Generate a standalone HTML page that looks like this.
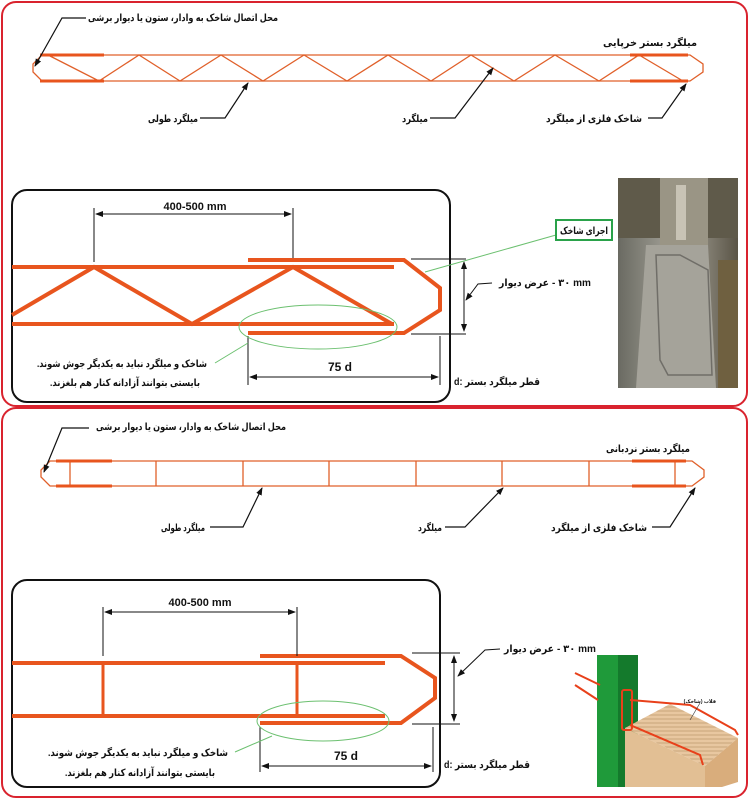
<!DOCTYPE html>
<html><head><meta charset="utf-8"><style>
html,body{margin:0;padding:0;background:#fff;}
svg{display:block;}
text{font-family:"Liberation Sans","DejaVu Sans",sans-serif;font-weight:bold;fill:#111;}
</style></head><body>
<svg width="750" height="800" viewBox="0 0 750 800" xmlns="http://www.w3.org/2000/svg">
<defs>
<marker id="ar" markerWidth="8" markerHeight="8" refX="7" refY="4" orient="auto" markerUnits="userSpaceOnUse"><path d="M0,1 L8,4 L0,7 z" fill="#111"/></marker>
<marker id="as" markerWidth="8" markerHeight="8" refX="1" refY="4" orient="auto" markerUnits="userSpaceOnUse"><path d="M8,1 L0,4 L8,7 z" fill="#111"/></marker>
<linearGradient id="conc" x1="0" x2="1"><stop offset="0" stop-color="#6a6a62"/><stop offset="0.5" stop-color="#a9a79d"/><stop offset="1" stop-color="#5a5446"/></linearGradient>
<pattern id="str" width="6" height="4" patternUnits="userSpaceOnUse"><rect width="6" height="4" fill="#e8c7a0"/><rect y="2.5" width="6" height="1" fill="#c9a57a"/></pattern>
</defs>

<rect x="2" y="2" width="745" height="404" rx="14" fill="none" stroke="#d9232e" stroke-width="2"/>
<rect x="2" y="408" width="745" height="389" rx="14" fill="none" stroke="#d9232e" stroke-width="2"/>

<!-- TOP TRUSS -->
<g stroke="#e0602a" stroke-width="1.3" fill="none">
<path d="M42,55 L690,55 L703,64 L703,72 L690,81 L42,81 L33,72 L33,64 Z"/>
<polyline points="48,55 99,81 139,55 180,81 221,55 263,81 304,55 347,81 388,55 431,81 471,55 514,81 555,55 599,81 639,55 683,81"/>
</g>
<g stroke="#e8551e" stroke-width="3">
<line x1="40" y1="55" x2="104" y2="55"/><line x1="40" y1="81" x2="104" y2="81"/>
<line x1="630" y1="55" x2="688" y2="55"/><line x1="630" y1="81" x2="688" y2="81"/>
</g>
<g stroke="#111" stroke-width="1.2" fill="none">
<polyline points="86,18 62,18 35,66" marker-end="url(#ar)"/>
<polyline points="200,118 225,118 248,83" marker-end="url(#ar)"/>
<polyline points="430,118 455,118 493,68" marker-end="url(#ar)"/>
<polyline points="648,118 662,118 686,84" marker-end="url(#ar)"/>
</g>
<g font-size="10" direction="rtl" text-anchor="start">
<text x="278" y="21" textLength="190" lengthAdjust="spacingAndGlyphs">محل اتصال شاخک به وادار، ستون یا دیوار برشی</text>
<text x="697" y="46" textLength="94" lengthAdjust="spacingAndGlyphs">میلگرد بستر خرپایی</text>
<text x="198" y="122" textLength="50" lengthAdjust="spacingAndGlyphs">میلگرد طولی</text>
<text x="428" y="122" textLength="26" lengthAdjust="spacingAndGlyphs">میلگرد</text>
<text x="642" y="122" textLength="96" lengthAdjust="spacingAndGlyphs">شاخک فلزی از میلگرد</text>
</g>

<!-- TOP DETAIL -->
<rect x="12" y="190" width="438" height="212" rx="15" fill="none" stroke="#111" stroke-width="2"/>
<g stroke="#e8551e" stroke-width="4" fill="none">
<line x1="12" y1="267" x2="394" y2="267"/>
<line x1="12" y1="324" x2="394" y2="324"/>
<polyline points="12,315 94,267 192,324 293,267 392,324"/>
<polyline points="248,260 404,260 440,288 440,310 404,333 248,333"/>
</g>
<g stroke="#111" stroke-width="1" fill="none">
<line x1="94" y1="208" x2="94" y2="262"/><line x1="293" y1="208" x2="293" y2="258"/>
<line x1="96" y1="214" x2="291" y2="214" marker-start="url(#as)" marker-end="url(#ar)"/>
<line x1="411" y1="259" x2="466" y2="259"/><line x1="411" y1="334" x2="466" y2="334"/>
<line x1="464" y1="262" x2="464" y2="331" marker-start="url(#as)" marker-end="url(#ar)"/>
<line x1="248" y1="336" x2="248" y2="385"/><line x1="440" y1="336" x2="440" y2="385"/>
<line x1="250" y1="377" x2="438" y2="377" marker-start="url(#as)" marker-end="url(#ar)"/>
<polyline points="492,283 478,284 466,300" marker-end="url(#ar)"/>
</g>
<text x="195" y="210" font-size="11" text-anchor="middle">400-500 mm</text>
<text x="340" y="371" font-size="12" text-anchor="middle">75 d</text>
<text x="549" y="286" font-size="10" direction="rtl" text-anchor="start" textLength="50" lengthAdjust="spacingAndGlyphs">عرض دیوار</text>
<text x="552" y="286" font-size="10">- ۳۰ mm</text>
<text x="540" y="385" font-size="10" direction="rtl" text-anchor="start" textLength="86" lengthAdjust="spacingAndGlyphs">قطر میلگرد بستر :d</text>
<g font-size="10" direction="rtl" text-anchor="start">
<text x="207" y="367" textLength="170" lengthAdjust="spacingAndGlyphs">شاخک و میلگرد نباید به یکدیگر جوش شوند.</text>
<text x="200" y="386" textLength="150" lengthAdjust="spacingAndGlyphs">بایستی بتوانند آزادانه کنار هم بلغزند.</text>
</g>
<ellipse cx="318" cy="327" rx="79" ry="22" fill="none" stroke="#6cc070" stroke-width="1"/>
<line x1="248" y1="343" x2="215" y2="363" stroke="#6cc070" stroke-width="1"/>
<line x1="556" y1="235" x2="425" y2="272" stroke="#6cc070" stroke-width="1"/>
<rect x="556" y="220" width="56" height="20" fill="#fff" stroke="#2aa24a" stroke-width="2"/>
<text x="608" y="234" font-size="10" direction="rtl" text-anchor="start" textLength="48" lengthAdjust="spacingAndGlyphs">اجرای شاخک</text>

<!-- photo -->
<rect x="618" y="178" width="120" height="210" fill="url(#conc)"/>
<rect x="618" y="178" width="120" height="60" fill="#5f5a4a"/>
<rect x="660" y="178" width="48" height="70" fill="#9a9585"/>
<rect x="676" y="185" width="10" height="55" fill="#c8c3b5"/>
<polygon points="646,245 708,245 716,388 636,388" fill="#a5a39a"/>
<path d="M656,255 L680,255 L708,270 L712,375 L668,375 L660,360 Z" fill="none" stroke="#706e68" stroke-width="1.5"/>
<rect x="718" y="260" width="20" height="128" fill="#6f6040"/>

<!-- BOTTOM LADDER -->
<g stroke="#e0602a" stroke-width="1.3" fill="none">
<path d="M50,461 L692,461 L704,470 L704,477 L692,486 L50,486 L41,477 L41,470 Z"/>
<line x1="70" y1="461" x2="70" y2="486"/><line x1="156" y1="461" x2="156" y2="486"/>
<line x1="243" y1="461" x2="243" y2="486"/><line x1="329" y1="461" x2="329" y2="486"/>
<line x1="416" y1="461" x2="416" y2="486"/><line x1="502" y1="461" x2="502" y2="486"/>
<line x1="589" y1="461" x2="589" y2="486"/><line x1="675" y1="461" x2="675" y2="486"/>
</g>
<g stroke="#e8551e" stroke-width="3">
<line x1="56" y1="461" x2="112" y2="461"/><line x1="56" y1="486" x2="112" y2="486"/>
<line x1="632" y1="461" x2="686" y2="461"/><line x1="632" y1="486" x2="686" y2="486"/>
</g>
<g stroke="#111" stroke-width="1.2" fill="none">
<polyline points="89,428 62,428 44,472" marker-end="url(#ar)"/>
<polyline points="210,527 243,527 262,488" marker-end="url(#ar)"/>
<polyline points="445,527 465,527 503,488" marker-end="url(#ar)"/>
<polyline points="652,527 670,527 695,488" marker-end="url(#ar)"/>
</g>
<g font-size="10" direction="rtl" text-anchor="start">
<text x="286" y="430" textLength="190" lengthAdjust="spacingAndGlyphs">محل اتصال شاخک به وادار، ستون یا دیوار برشی</text>
<text x="690" y="452" textLength="84" lengthAdjust="spacingAndGlyphs">میلگرد بستر نردبانی</text>
<text x="205" y="531" textLength="44" lengthAdjust="spacingAndGlyphs">میلگرد طولی</text>
<text x="442" y="531" textLength="24" lengthAdjust="spacingAndGlyphs">میلگرد</text>
<text x="647" y="531" textLength="96" lengthAdjust="spacingAndGlyphs">شاخک فلزی از میلگرد</text>
</g>

<!-- BOTTOM DETAIL -->
<rect x="12" y="580" width="428" height="207" rx="15" fill="none" stroke="#111" stroke-width="2"/>
<g stroke="#e8551e" stroke-width="4" fill="none">
<line x1="12" y1="663" x2="385" y2="663"/>
<line x1="12" y1="716" x2="385" y2="716"/>
<polyline points="260,656 401,656 435,678 435,698 401,723 260,723"/>
</g>
<g stroke="#e8551e" stroke-width="3">
<line x1="103" y1="663" x2="103" y2="716"/><line x1="297" y1="663" x2="297" y2="716"/>
</g>
<g stroke="#111" stroke-width="1" fill="none">
<line x1="103" y1="607" x2="103" y2="656"/><line x1="297" y1="607" x2="297" y2="656"/>
<line x1="105" y1="612" x2="295" y2="612" marker-start="url(#as)" marker-end="url(#ar)"/>
<line x1="412" y1="653" x2="460" y2="653"/><line x1="412" y1="724" x2="460" y2="724"/>
<line x1="454" y1="656" x2="454" y2="721" marker-start="url(#as)" marker-end="url(#ar)"/>
<line x1="260" y1="727" x2="260" y2="772"/><line x1="433" y1="727" x2="433" y2="772"/>
<line x1="262" y1="766" x2="431" y2="766" marker-start="url(#as)" marker-end="url(#ar)"/>
<polyline points="500,649 485,650 458,676" marker-end="url(#ar)"/>
</g>
<text x="200" y="606" font-size="11" text-anchor="middle">400-500 mm</text>
<text x="346" y="760" font-size="12" text-anchor="middle">75 d</text>
<text x="554" y="652" font-size="10" direction="rtl" text-anchor="start" textLength="50" lengthAdjust="spacingAndGlyphs">عرض دیوار</text>
<text x="557" y="652" font-size="10">- ۳۰ mm</text>
<text x="530" y="768" font-size="10" direction="rtl" text-anchor="start" textLength="86" lengthAdjust="spacingAndGlyphs">قطر میلگرد بستر :d</text>
<g font-size="10" direction="rtl" text-anchor="start">
<text x="228" y="756" textLength="180" lengthAdjust="spacingAndGlyphs">شاخک و میلگرد نباید به یکدیگر جوش شوند.</text>
<text x="215" y="776" textLength="150" lengthAdjust="spacingAndGlyphs">بایستی بتوانند آزادانه کنار هم بلغزند.</text>
</g>
<ellipse cx="323" cy="721" rx="66" ry="20" fill="none" stroke="#6cc070" stroke-width="1"/>
<line x1="272" y1="736" x2="235" y2="752" stroke="#6cc070" stroke-width="1"/>

<!-- 3D illustration -->
<rect x="597" y="655" width="41" height="132" fill="#1f9a3a"/>
<rect x="618" y="655" width="20" height="132" fill="#147a2c"/>
<polygon points="625,728 670,704 738,738 705,766" fill="url(#str)"/>
<polygon points="625,728 705,766 705,787 625,787" fill="#e2bf94"/>
<polygon points="705,766 738,738 738,782 722,787 705,787" fill="#d9ad7c"/>
<g stroke="#e8401a" stroke-width="2" fill="none">
<rect x="622" y="690" width="10" height="40" rx="2"/>
<polyline points="630,700 690,705 735,730 738,735"/>
<polyline points="630,725 700,755 703,765"/>
<polyline points="575,673 600,685"/>
<polyline points="575,685 598,700"/>
</g>
<text x="716" y="703" font-size="5" font-weight="normal" direction="rtl" text-anchor="start">قلاب (شاخک)</text>
<line x1="700" y1="703" x2="690" y2="720" stroke="#333" stroke-width="0.6"/>
</svg>
</body></html>
